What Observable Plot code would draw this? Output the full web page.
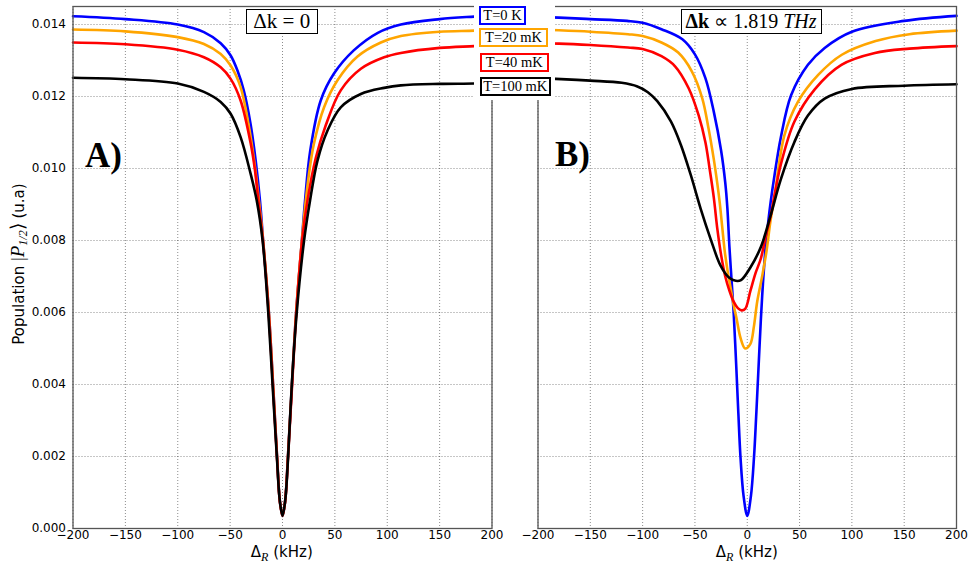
<!DOCTYPE html>
<html><head><meta charset="utf-8">
<script src="https://cdn.jsdelivr.net/npm/d3@7"></script>
<script src="https://cdn.jsdelivr.net/npm/@observablehq/plot@0.6"></script>
<style>
body{margin:0;background:#fff;}
#wrap{position:relative;width:968px;height:564px;overflow:hidden;background:#fff;}
#wrap > svg{position:absolute;top:0;}
.box{position:absolute;background:#fff;border:1.5px solid #000;font-family:"Liberation Serif",serif;white-space:nowrap;line-height:1;box-sizing:border-box;display:flex;align-items:center;justify-content:center;color:#000;}
#legbg{position:absolute;left:474px;top:0;width:81px;height:100px;background:#fff;}
</style></head><body><div id="wrap"></div>
<script>
const xTicks = [-200,-150,-100,-50,0,50,100,150,200];
const yTicks = [0,0.002,0.004,0.006,0.008,0.010,0.012,0.014];
const seriesNames = ["T=0 K","T=20 mK","T=40 mK","T=100 mK"];
const seriesColors = ["#0000ff","#ffa500","#ff0000","#000000"];
const panelLetters = ["A)","B)"];

// ---- Panel A (Δk = 0) ----
const aBlueX = [-200,-150,-100,-75,-59,-49.5,-43,-37,-30.5,-25.6,-21.5,-18.5,-13,-9,-5.2,-2.5,0,2.5,5.2,9,13,18.5,21.5,26.5,36.5,49,68,91,113,150,183,200];
const aBlueV = [0.01423,0.01415,0.0140,0.01379,0.01348,0.01314,0.01272,0.01217,0.01124,0.01022,0.00911,0.0080,0.0060,0.0040,0.0020,0.00075,0.00035,0.00075,0.0020,0.0040,0.0060,0.0080,0.0091,0.0105,0.01189,0.01263,0.01328,0.01377,0.01400,0.01415,0.01422,0.01425];
const aOrangeX = [-200,-150,-100,-75,-59,-49.5,-40,-32,-27,-22.5,-18.5,-13,-9,-5.2,-2.5,0,2.5,5.2,9,13,18.5,22.2,26,30.1,39.7,52.5,71.6,93.9,113,150,183,200];
const aOrangeV = [0.01386,0.01381,0.01365,0.01346,0.01318,0.01286,0.01226,0.01115,0.0102,0.0091,0.0080,0.0060,0.0040,0.0020,0.00075,0.00035,0.00075,0.0020,0.0040,0.0060,0.0080,0.0091,0.0100,0.0107,0.0117,0.01245,0.01311,0.01350,0.01368,0.0138,0.01383,0.01386];
const aRedX = [-200,-150,-100,-75,-59,-49.5,-40,-30.4,-26.5,-23,-18.7,-13.2,-9.2,-5.3,-2.5,0,2.5,5.3,9.2,13.2,18.7,23.8,31.7,41.3,55.6,74.8,97,113,150,183,200];
const aRedV = [0.0135,0.01345,0.0133,0.01309,0.01281,0.01249,0.01189,0.0107,0.0100,0.0091,0.0080,0.0060,0.0040,0.0020,0.00075,0.00035,0.00075,0.0020,0.0040,0.0060,0.0080,0.0091,0.01028,0.0112,0.01217,0.01277,0.01309,0.01321,0.01335,0.0134,0.01343];
const aBlackX = [-200,-150,-100,-75,-59,-49.5,-40,-30.4,-24.6,-19,-13.6,-9.5,-5.4,-2.6,0,2.6,5.4,8.9,13.6,20.6,26.3,33.4,42.9,55.6,74.8,97,113,150,183,200];
const aBlackV = [0.01252,0.01248,0.01236,0.01213,0.01185,0.01152,0.01087,0.00985,0.00911,0.0080,0.0060,0.0040,0.0020,0.00078,0.00035,0.00078,0.0020,0.0040,0.0060,0.0080,0.00911,0.01022,0.01105,0.0117,0.01207,0.01224,0.01231,0.01235,0.01236,0.01238];

// ---- Panel B (Δk ∝ 1.819 THz) ----
const bBlueX = [-200,-180,-150,-115,-100,-82,-62,-50,-40,-32,-25,-21,-19,-17,-15,-13,-10.5,-8.5,-6.5,-3.5,0,3.5,6.5,8.5,10.5,13,15,17.5,20,22.5,26,32,42,58,74,100,150,200];
const bBlueV = [0.01421,0.01419,0.01415,0.0141,0.01405,0.01387,0.01359,0.01317,0.01251,0.01158,0.0105,0.0096,0.0089,0.0078,0.0069,0.0060,0.0045,0.0032,0.0020,0.0009,0.00035,0.0009,0.0020,0.0031,0.0043,0.0058,0.0068,0.0078,0.0085,0.0091,0.0098,0.01085,0.01204,0.01288,0.01335,0.0138,0.0141,0.01424];
const bOrangeX = [-200,-180,-150,-114,-100,-82,-66,-53,-43,-37,-32,-28.7,-26.5,-24,-21.5,-18.5,-16,-13,-10,-6.5,-2,3,6.3,9.5,14.2,18.4,22,26,35.5,48.4,67.8,90.4,122.7,155,200];
const bOrangeV = [0.01386,0.01384,0.0138,0.01373,0.01368,0.0135,0.01322,0.0127,0.01195,0.01111,0.01026,0.0096,0.0091,0.0084,0.0077,0.0071,0.0067,0.0062,0.0058,0.0053,0.0050,0.00513,0.0056,0.0063,0.0070,0.0077,0.0085,0.0092,0.01092,0.01185,0.0126,0.01316,0.01354,0.01373,0.01383];
const bRedX = [-200,-180,-150,-114,-100,-82,-69,-56,-46.5,-40,-36,-32,-28.5,-25,-21,-17,-13,-9,-5.5,-2,3,8,13,17.5,22.5,27,32,45,64.5,90,122,155,200];
const bRedV = [0.01348,0.01347,0.01343,0.01336,0.01332,0.01312,0.01284,0.01223,0.01148,0.01073,0.0100,0.0092,0.0083,0.0076,0.0070,0.0066,0.0063,0.00612,0.00606,0.0061,0.0066,0.0071,0.0075,0.0081,0.0087,0.0094,0.0101,0.0113,0.0122,0.01288,0.01321,0.01333,0.0134];
const bBlackX = [-200,-183,-150,-120,-105,-95,-86,-73,-63.5,-54,-44.5,-35,-25.5,-17.5,-11,-6,3,13,22,32,45,58,74,100,150,200];
const bBlackV = [0.01251,0.01249,0.01244,0.01238,0.01228,0.01212,0.01187,0.01131,0.01066,0.00982,0.00888,0.00804,0.0073,0.00697,0.00688,0.0069,0.00725,0.00782,0.00866,0.00969,0.01073,0.01147,0.01194,0.01221,0.0123,0.01234];

function rows(xs, vs, name) { return xs.map((x, i) => ({series: name, x, v: vs[i]})); }
const dataA = [
  ...rows(aBlueX, aBlueV, seriesNames[0]), ...rows(aOrangeX, aOrangeV, seriesNames[1]),
  ...rows(aRedX, aRedV, seriesNames[2]), ...rows(aBlackX, aBlackV, seriesNames[3])];
const dataB = [
  ...rows(bBlueX, bBlueV, seriesNames[0]), ...rows(bOrangeX, bOrangeV, seriesNames[1]),
  ...rows(bRedX, bRedV, seriesNames[2]), ...rows(bBlackX, bBlackV, seriesNames[3])];

const fmtX = d => d < 0 ? "\u2212" + Math.abs(d) : String(d);
const fmtY = d => d.toFixed(3);

function panel(data, width, ml, mr, showY) {
  return Plot.plot({
    width, height: 564, marginTop: 6, marginBottom: 36, marginLeft: ml, marginRight: mr,
    style: {fontFamily: "DejaVu Sans", fontSize: "12px", color: "#000", background: "transparent", overflow: "visible"},
    x: {domain: [-200, 200], ticks: xTicks, tickFormat: fmtX, tickSize: 0, tickPadding: 2, label: null},
    y: showY ? {domain: [0, 0.0145], ticks: yTicks, tickFormat: fmtY, tickSize: 0, tickPadding: 7, label: null}
             : {domain: [0, 0.0145], axis: null},
    color: {domain: seriesNames, range: seriesColors},
    marks: [
      Plot.gridX(xTicks, {stroke: "#000", strokeOpacity: 0.5, strokeDasharray: "1,2", strokeWidth: 0.9}),
      Plot.gridY(yTicks, {stroke: "#000", strokeOpacity: 0.5, strokeDasharray: "1,2", strokeWidth: 0.9}),
      Plot.line(data, {x: "x", y: "v", z: "series", stroke: "series", strokeWidth: 2.6, curve: "catmull-rom"}),
      Plot.frame({stroke: "#555", strokeWidth: 1.3})
    ]
  });
}

const wrap = document.getElementById("wrap");
const left = panel(dataA, 514, 72.5, 22.5, true);
left.style.left = "0px";
wrap.appendChild(left);
const right = panel(dataB, 454, 23.5, 12, false);
right.style.left = "514px";
wrap.appendChild(right);

// overlay text (letters and axis labels)
const ns = "http://www.w3.org/2000/svg";
const ov = document.createElementNS(ns, "svg");
ov.setAttribute("width", 968); ov.setAttribute("height", 564);
ov.style.left = "0px";
ov.innerHTML = `
  <text x="85" y="167" font-family="Liberation Serif" font-weight="bold" font-size="35">${panelLetters[0]}</text>
  <text x="555" y="166" font-family="Liberation Serif" font-weight="bold" font-size="35">${panelLetters[1]}</text>
  <text x="281.8" y="557" text-anchor="middle" font-family="DejaVu Sans" font-size="15">Δ<tspan font-family="Liberation Serif" font-style="italic" font-size="12" dy="4">R</tspan><tspan dy="-4"> (kHz)</tspan></text>
  <text x="746.8" y="557" text-anchor="middle" font-family="DejaVu Sans" font-size="15">Δ<tspan font-family="Liberation Serif" font-style="italic" font-size="12" dy="4">R</tspan><tspan dy="-4"> (kHz)</tspan></text>
  <text transform="translate(23.5,264) rotate(-90)" text-anchor="middle" font-family="DejaVu Sans" font-size="15">Population <tspan font-family="Liberation Serif" font-size="19">|</tspan><tspan font-family="Liberation Serif" font-style="italic" font-size="19">P</tspan><tspan font-family="Liberation Serif" font-style="italic" font-size="12" dy="3">1/2</tspan><tspan font-family="Liberation Serif" font-size="19" dy="-3">⟩</tspan> (u.a)</text>
`;
wrap.appendChild(ov);

// legend background and boxes
const bg = document.createElement("div"); bg.id = "legbg"; wrap.appendChild(bg);
function box(html, l, t, w, h, color, fs, bw) {
  const d = document.createElement("div");
  d.className = "box";
  d.style.cssText = `left:${l}px;top:${t}px;width:${w}px;height:${h}px;border:${bw}px solid ${color};font-size:${fs}px;`;
  d.innerHTML = `<span>${html}</span>`;
  wrap.appendChild(d);
}
const legTops = [5.5, 28, 52.5, 76.5];
const legLefts = [479, 479, 480, 480];
const legWidths = [47, 69, 68.5, 70.5];
seriesNames.forEach((n, i) => box(n, legLefts[i], legTops[i], legWidths[i], 19, seriesColors[i], 14.5, 2));
box("Δk = 0", 246, 9, 71.5, 25, "#000", 21, 1.5);
box("<b>Δk</b> ∝ 1.819 <i>THz</i>", 680.5, 8.5, 141, 25.5, "#000", 20, 1.5);
</script>
</body></html>
